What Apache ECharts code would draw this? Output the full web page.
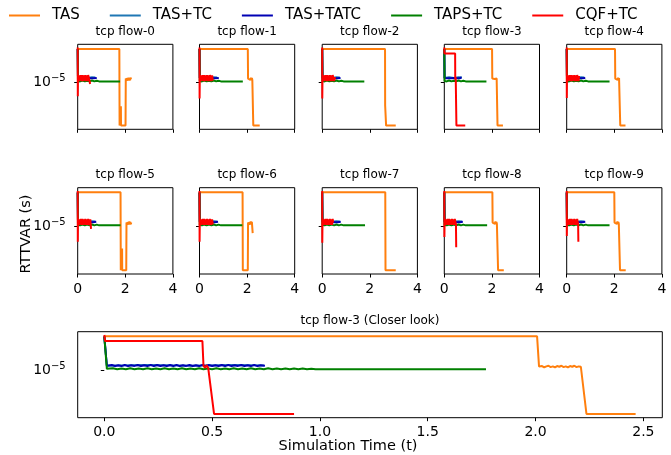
<!DOCTYPE html>
<html><head><meta charset="utf-8">
<script src="https://cdn.jsdelivr.net/npm/echarts@6/dist/echarts.min.js"></script>
<style>html,body{margin:0;padding:0;background:#fff}#c{width:671px;height:455px}</style>
</head><body><div id="c"></div>
<script>
// ---------- data ----------
const flowTitles = ['tcp flow-0','tcp flow-1','tcp flow-2','tcp flow-3','tcp flow-4','tcp flow-5','tcp flow-6','tcp flow-7','tcp flow-8','tcp flow-9'];
const closerTitle = 'tcp flow-3 (Closer look)';
const seriesNames = ['TAS','TAS+TC','TAS+TATC','TAPS+TC','CQF+TC'];
const xTicksSmall = [0, 2, 4];
const xTicksBig = [0, 0.5, 1.0, 1.5, 2.0, 2.5];
const yTickValues = [1e-5];
const yLabel = 'RTTVAR (s)';
const xLabel = 'Simulation Time (t)';

// TAS (orange), one list per flow
const tasFlows = [
  [[0,2.46e-5],[1.75,2.46e-5],[1.76,3.08e-6],[1.81,3.08e-6],[1.815,5.2e-6],[1.82,3.08e-6],[2.01,3.08e-6],[2.02,1.1e-5],[2.04,1.05e-5],[2.06,1.13e-5],[2.08,1.04e-5],[2.10,1.12e-5],[2.12,1.05e-5],[2.14,1.13e-5],[2.16,1.04e-5],[2.18,1.12e-5],[2.20,1.05e-5],[2.22,1.13e-5],[2.24,1.08e-5]],
  [[0,2.46e-5],[2.03,2.46e-5],[2.04,1.1e-5],[2.06,1.06e-5],[2.08,1.12e-5],[2.10,1.05e-5],[2.12,1.12e-5],[2.14,1.06e-5],[2.16,1.13e-5],[2.18,1.05e-5],[2.20,1.12e-5],[2.22,1.06e-5],[2.24,1.1e-5],[2.26,3.08e-6],[2.53,3.08e-6]],
  [[0,2.46e-5],[2.64,2.46e-5],[2.645,5.3e-6],[2.68,5.3e-6],[2.685,3.08e-6],[3.09,3.08e-6]],
  [[0,2.46e-5],[2.007,2.46e-5],[2.016,1.1e-5],[2.02,1.08e-5],[2.03,1.11e-5],[2.04,1.07e-5],[2.05,1.10e-5],[2.06,1.12e-5],[2.07,1.08e-5],[2.08,1.10e-5],[2.09,1.07e-5],[2.10,1.11e-5],[2.11,1.09e-5],[2.12,1.12e-5],[2.13,1.08e-5],[2.14,1.10e-5],[2.15,1.07e-5],[2.16,1.11e-5],[2.17,1.09e-5],[2.18,1.12e-5],[2.19,1.08e-5],[2.20,1.10e-5],[2.21,1.09e-5],[2.213,1.09e-5],[2.236,3.08e-6],[2.464,3.08e-6]],
  [[0,2.46e-5],[2.03,2.46e-5],[2.04,1.1e-5],[2.06,1.06e-5],[2.08,1.12e-5],[2.10,1.05e-5],[2.12,1.12e-5],[2.14,1.06e-5],[2.16,1.13e-5],[2.18,1.05e-5],[2.20,1.12e-5],[2.23,1.1e-5],[2.25,3.08e-6],[2.47,3.08e-6]],
  [[0,2.46e-5],[1.80,2.46e-5],[1.81,3.08e-6],[1.86,3.08e-6],[1.865,5.5e-6],[1.87,3.08e-6],[2.04,3.08e-6],[2.05,1.1e-5],[2.07,1.05e-5],[2.09,1.13e-5],[2.11,1.04e-5],[2.13,1.12e-5],[2.15,1.05e-5],[2.17,1.13e-5],[2.19,1.04e-5],[2.21,1.12e-5],[2.23,1.05e-5],[2.25,1.1e-5]],
  [[0,2.46e-5],[1.81,2.46e-5],[1.82,3.08e-6],[2.03,3.08e-6],[2.04,1.1e-5],[2.06,1.05e-5],[2.08,1.13e-5],[2.10,1.04e-5],[2.12,1.12e-5],[2.14,1.05e-5],[2.16,1.13e-5],[2.18,1.04e-5],[2.20,1.12e-5],[2.23,1.1e-5],[2.235,8.3e-6]],
  [[0,2.46e-5],[2.65,2.46e-5],[2.66,3.08e-6],[3.09,3.08e-6]],
  [[0,2.46e-5],[2.02,2.46e-5],[2.03,1.1e-5],[2.05,1.06e-5],[2.07,1.12e-5],[2.09,1.05e-5],[2.11,1.12e-5],[2.13,1.06e-5],[2.15,1.13e-5],[2.17,1.05e-5],[2.19,1.12e-5],[2.21,1.06e-5],[2.23,1.1e-5],[2.26,3.08e-6],[2.50,3.08e-6]],
  [[0,2.46e-5],[2.00,2.46e-5],[2.01,1.1e-5],[2.03,1.06e-5],[2.05,1.12e-5],[2.07,1.05e-5],[2.09,1.12e-5],[2.11,1.06e-5],[2.13,1.13e-5],[2.15,1.05e-5],[2.17,1.12e-5],[2.19,1.06e-5],[2.21,1.1e-5],[2.24,3.08e-6],[2.48,3.08e-6]]
];

// TAS+TC (light blue), nearly hidden under TAS+TATC
const tasTcBand = [[0,2.45e-5],[0.012,1.12e-5],[0.2,1.14e-5],[0.4,1.12e-5],[0.6,1.14e-5],[0.74,1.13e-5]];

// TAS+TATC (blue) noisy band
const tatcBand = [[0.02,1.11e-5],[0.035,1.14e-5],[0.05,1.11e-5],[0.065,1.135e-5],[0.08,1.11e-5],[0.095,1.145e-5],[0.11,1.11e-5],[0.125,1.135e-5],[0.14,1.115e-5],[0.155,1.14e-5],[0.17,1.11e-5],[0.185,1.135e-5],[0.20,1.11e-5],[0.215,1.145e-5],[0.23,1.11e-5],[0.245,1.14e-5],[0.26,1.11e-5],[0.275,1.135e-5],[0.29,1.11e-5],[0.305,1.14e-5],[0.32,1.11e-5],[0.335,1.145e-5],[0.35,1.11e-5],[0.365,1.135e-5],[0.38,1.115e-5],[0.395,1.14e-5],[0.41,1.11e-5],[0.425,1.135e-5],[0.44,1.11e-5],[0.455,1.145e-5],[0.47,1.11e-5],[0.485,1.14e-5],[0.50,1.11e-5],[0.515,1.135e-5],[0.53,1.11e-5],[0.545,1.14e-5],[0.56,1.11e-5],[0.575,1.145e-5],[0.59,1.11e-5],[0.605,1.135e-5],[0.62,1.115e-5],[0.635,1.14e-5],[0.65,1.11e-5],[0.665,1.135e-5],[0.68,1.11e-5],[0.695,1.145e-5],[0.71,1.11e-5],[0.725,1.135e-5]];
const tatcEnd = [0.80,0.81,0.77,0.745,0.78,0.78,0.78,0.78,0.78,0.78];

// TAPS+TC (green) noisy band then thin line
const tapsBand = [[0.02,1.02e-5],[0.04,1.045e-5],[0.06,1.02e-5],[0.08,1.04e-5],[0.10,1.02e-5],[0.12,1.045e-5],[0.14,1.02e-5],[0.16,1.04e-5],[0.18,1.02e-5],[0.20,1.045e-5],[0.22,1.02e-5],[0.24,1.04e-5],[0.26,1.02e-5],[0.28,1.045e-5],[0.30,1.02e-5],[0.32,1.04e-5],[0.34,1.02e-5],[0.36,1.045e-5],[0.38,1.02e-5],[0.40,1.04e-5],[0.42,1.02e-5],[0.44,1.045e-5],[0.46,1.02e-5],[0.48,1.04e-5],[0.50,1.02e-5],[0.52,1.045e-5],[0.54,1.02e-5],[0.56,1.04e-5],[0.58,1.02e-5],[0.60,1.045e-5],[0.62,1.02e-5],[0.64,1.04e-5],[0.66,1.02e-5],[0.68,1.045e-5],[0.70,1.02e-5],[0.72,1.04e-5],[0.74,1.02e-5],[0.76,1.045e-5],[0.78,1.02e-5],[0.80,1.04e-5],[0.82,1.02e-5],[0.84,1.04e-5],[0.86,1.02e-5],[0.88,1.04e-5],[0.90,1.02e-5],[0.92,1.04e-5],[0.94,1.02e-5],[0.96,1.035e-5],[0.98,1.02e-5],[1.00,1.02e-5]];
const tapsEnd = [1.78,1.82,1.77,1.77,1.80,1.80,1.80,1.80,1.80,1.80];

// CQF+TC (red)
const cqfDip = [6.8e-6,6.4e-6,6.4e-6,null,6.5e-6,6.6e-6,6.6e-6,6.4e-6,7.5e-6,7.7e-6];
const cqfBand = [[0.02,1.21e-5],[0.05,1.03e-5],[0.08,1.20e-5],[0.11,1.04e-5],[0.14,1.21e-5],[0.17,1.03e-5],[0.20,1.21e-5],[0.23,1.03e-5],[0.26,1.20e-5],[0.29,1.04e-5],[0.32,1.21e-5],[0.35,1.03e-5],[0.38,1.20e-5],[0.41,1.03e-5],[0.44,1.21e-5]];
const cqfTail = [
  [[0.47,1.2e-5],[0.50,1.03e-5],[0.52,9.5e-6]],
  [[0.47,1.2e-5],[0.50,1.03e-5],[0.53,1.2e-5],[0.56,1.04e-5]],
  [[0.47,1.2e-5],[0.50,1.03e-5],[0.54,1.15e-5]],
  null,
  [[0.47,1.2e-5],[0.50,1.03e-5],[0.52,1.18e-5]],
  [[0.47,1.2e-5],[0.50,1.03e-5],[0.53,1.2e-5],[0.56,9.3e-6]],
  [[0.47,1.2e-5],[0.50,1.03e-5],[0.53,1.2e-5],[0.56,1.05e-5]],
  [[0.46,1.1e-5]],
  [[0.47,1.2e-5],[0.49,1.05e-5],[0.50,5.7e-6]],
  [[0.47,1.2e-5],[0.48,1.05e-5],[0.49,6.6e-6]]
];
const cqfFlow3 = [[0,2.55e-5],[0.004,2.17e-5],[0.455,2.17e-5],[0.46,1.12e-5],[0.468,1.06e-5],[0.475,1.14e-5],[0.482,1.05e-5],[0.488,1.0e-5],[0.509,3.08e-6],[0.88,3.08e-6]];

// ---------- build ----------
const FONT = 'DejaVu Sans';
const COLORS = ['#ff7f0e','#1f77b4','#0000b4','#008000','#ff0000'];
const LW = 2;
const Y_MIN = 2.786e-6, Y_MAX = 2.786e-5;
const colLeft = [77.7, 199.5, 322.2, 444.3, 566.7];
const rowTop = [44.3, 187.7];
const rowH = [85, 86.3];
const PW = 95.2;

function flowSeriesData(i) {
  const tas = tasFlows[i];
  const tc = tasTcBand;
  const tatc = [[0,2.45e-5],[0.012,1.12e-5]].concat(tatcBand, [[tatcEnd[i],1.12e-5]]);
  const taps = [[0,2.45e-5],[0.012,1.03e-5]].concat(tapsBand, [[tapsEnd[i],1.02e-5]]);
  const cqf = i === 3 ? cqfFlow3 : [[0,2.55e-5],[0.004,cqfDip[i]],[0.012,1.1e-5]].concat(cqfBand, cqfTail[i]);
  return [tas, tc, tatc, taps, cqf];
}

const grids = [], xAxes = [], yAxes = [], series = [], graphics = [];
const tick = {show:true, length:3.5, inside:false, lineStyle:{color:'#000', width:1}};
const yLabelRich = {
  b:{fontSize:14, fontFamily:FONT, color:'#000', lineHeight:18},
  s:{fontSize:10, fontFamily:FONT, color:'#000', lineHeight:10, verticalAlign:'top'}
};

function addPanel(gi, left, top, width, height, xCfg, showY) {
  grids.push({left, top, width, height, show:true, borderColor:'#000', borderWidth:1, backgroundColor:'transparent'});
  xAxes.push(Object.assign({gridIndex:gi, type:'value', axisLine:{show:false}, splitLine:{show:false}}, xCfg));
  yAxes.push({gridIndex:gi, type:'log', logBase:10, min:Y_MIN, max:Y_MAX,
    axisLine:{show:false}, splitLine:{show:false}, minorTick:{show:false}, minorSplitLine:{show:false},
    axisTick:Object.assign({customValues:yTickValues}, tick),
    axisLabel:{show:showY, customValues:yTickValues, margin:12, formatter:()=>'{b|10}{s|\u22125}', rich:yLabelRich}});
}

function addSeries(gi, d) {
  for (let k = 0; k < 5; k++) {
    series.push({name:seriesNames[k], type:'line', xAxisIndex:gi, yAxisIndex:gi, data:d[k], showSymbol:false, symbol:'none',
      lineStyle:{width:LW, color:COLORS[k]}, itemStyle:{color:COLORS[k]}, animation:false, silent:true});
  }
}

for (let i = 0; i < 10; i++) {
  const r = Math.floor(i/5), c = i % 5;
  addPanel(i, colLeft[c], rowTop[r], PW, rowH[r], {
    min:xTicksSmall[0], max:xTicksSmall[2], interval:xTicksSmall[1]-xTicksSmall[0], axisTick:tick,
    axisLabel:{show:r===1, fontSize:14, fontFamily:FONT, color:'#000', margin:8, showMinLabel:true, showMaxLabel:true}
  }, c === 0);
  addSeries(i, flowSeriesData(i));
  graphics.push({type:'text', x:colLeft[c] + PW/2, y:rowTop[r] - 12.7,
    style:{text:flowTitles[i], fontSize:12, fontFamily:FONT, fill:'#000', align:'center', verticalAlign:'middle', textAlign:'center', textVerticalAlign:'middle'}});
}
// closer look of flow-3
addPanel(10, 77.7, 331.7, 584.6, 86, {
  min:-0.1233, max:2.5877,
  axisTick:Object.assign({customValues:xTicksBig}, tick),
  axisLabel:{customValues:xTicksBig, formatter:(v)=>Number(v).toFixed(1), fontSize:14, fontFamily:FONT, color:'#000', margin:8}
}, true);
addSeries(10, flowSeriesData(3));

graphics.push({type:'text', x:370, y:321,
  style:{text:closerTitle, fontSize:12, fontFamily:FONT, fill:'#000', align:'center', verticalAlign:'middle', textAlign:'center', textVerticalAlign:'middle'}});
graphics.push({type:'text', x:348, y:446,
  style:{text:xLabel, fontSize:14.5, fontFamily:FONT, fill:'#000', align:'center', verticalAlign:'middle', textAlign:'center', textVerticalAlign:'middle'}});
graphics.push({type:'text', x:26, y:234, rotation:Math.PI/2,
  style:{text:yLabel, fontSize:14.5, fontFamily:FONT, fill:'#000', align:'center', verticalAlign:'middle', textAlign:'center', textVerticalAlign:'middle'}});

const chart = echarts.init(document.getElementById('c'), null, {renderer:'canvas'});
chart.setOption({
  animation:false,
  backgroundColor:'#fff',
  legend:{data:seriesNames, left:9, top:8, icon:'rect', itemWidth:31, itemHeight:2, itemGap:30, padding:0,
    formatter:'{g|}{name}',
    textStyle:{fontSize:15, fontFamily:FONT, color:'#000', rich:{g:{width:7}}}},
  grid:grids, xAxis:xAxes, yAxis:yAxes, series:series, graphic:graphics
});
</script>
</body></html>
